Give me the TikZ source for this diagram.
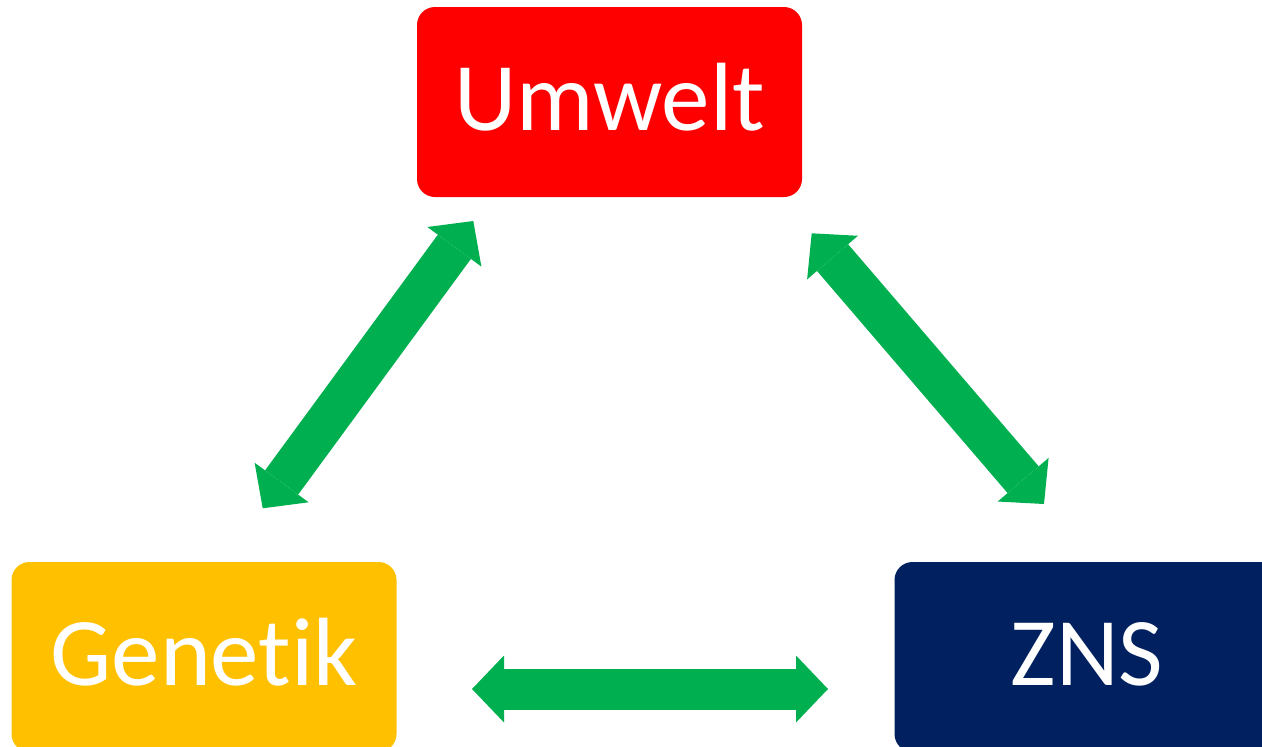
\documentclass[tikz,border=0pt]{standalone}
\usepackage{fontspec}
\setmainfont{Carlito}[Ligatures=NoCommon]
\usepackage{tikz}
\usetikzlibrary{arrows.meta,positioning}
\definecolor{umweltRed}{HTML}{FF0000}
\definecolor{genYellow}{HTML}{FFC000}
\definecolor{znsNavy}{HTML}{002060}
\definecolor{linkGreen}{HTML}{00B050}

\begin{document}
\begin{tikzpicture}[
    x=1pt,y=-1pt,
    every node/.style={font=\fontsize{97}{107}\selectfont},
    facbox/.style={rectangle,rounded corners=18pt,text=white,
                  text height=62pt,text depth=6pt,
                  minimum height=190pt,minimum width=385pt,inner sep=0pt,align=center},
    link/.style={draw=linkGreen,line width=41pt,
                 arrows={Triangle[length=32pt,width=67pt,line width=0pt]-Triangle[length=32pt,width=67pt,line width=0pt]}}
  ]
  \clip (0,0) rectangle (1262,747);
  %% Three factors
  \node[facbox,fill=umweltRed] (umw) at (609.5,102) {Umwelt};
  \node[facbox,fill=genYellow] (gen) at (204,657)   {Genetik};
  \node[facbox,fill=znsNavy]   (zns) at (1087,657)  {ZNS};
  %% Ends of the arrows
  \coordinate (ug) at (473.3,221);   \coordinate (gu) at (262.7,508.3);
  \coordinate (uz) at (811.7,233.3); \coordinate (zu) at (1044,504);
  \coordinate (gz) at (472,689);     \coordinate (zg) at (828,689);
  %% Mutual influence
  \draw[link] (gu) -- (ug);
  \draw[link] (uz) -- (zu);
  \draw[link] (gz) -- (zg);
\end{tikzpicture}
\end{document}
